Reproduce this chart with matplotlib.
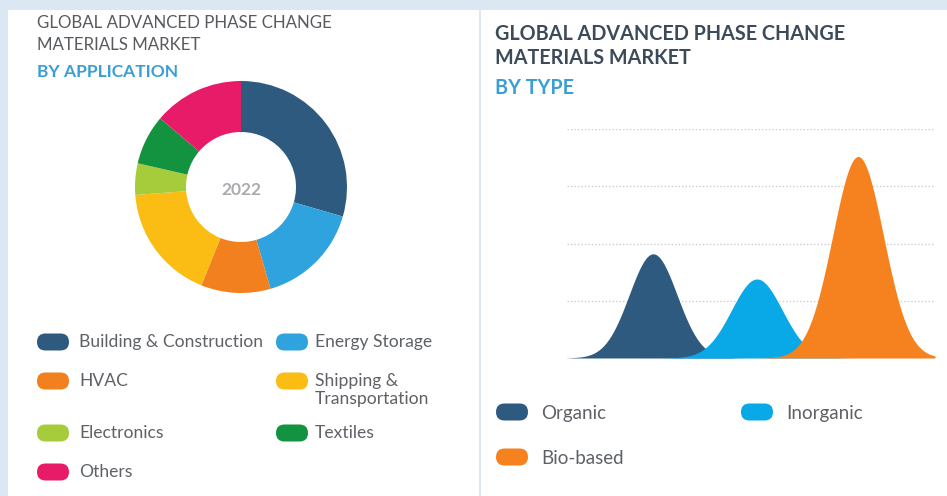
"""Advanced phase change materials market: donut by application and bell curves by type."""

import matplotlib
matplotlib.use("Agg")
import matplotlib.pyplot as plt
import numpy as np
from matplotlib.patches import FancyBboxPatch, Rectangle

plt.rcParams["font.family"] = ["Lato", "DejaVu Sans"]

W, H = 947, 496

# data - by application (share of 2022 market, %)
app_labels = ["Building & Construction", "Energy Storage", "HVAC", "Shipping &\nTransportation",
              "Electronics", "Textiles", "Others"]
app_shares = [29.5, 16.0, 10.6, 17.7, 4.8, 7.6, 13.8]
app_colors = ["#2f5a80", "#2ea3de", "#f2801f", "#fbbd14", "#a6cc3c", "#13923f", "#e81b69"]
donut_year = "2022"

# data - by type (relative peak height, peak position, spread)
type_labels = ["Organic", "Inorganic", "Bio-based"]
type_peaks = [1.82, 1.38, 3.52]
type_centers = [2.34, 5.16, 7.91]
type_spread = [0.65, 0.69, 0.69]
type_colors = ["#2f5a80", "#09a8e6", "#f5821f"]

BG = "#dce7f4"
TXT = "#575a5e"
LEG = "#5e6166"


def box(x0, y0, x1, y1):
    """pixel box (top-left origin) -> figure fraction rect"""
    return [x0 / W, 1 - y1 / H, (x1 - x0) / W, (y1 - y0) / H]


fig = plt.figure(figsize=(W / 100, H / 100), dpi=100, facecolor=BG)

# overlay in pixel units for panels, titles and legends
ov = fig.add_axes([0, 0, 1, 1])
ov.set_xlim(0, W)
ov.set_ylim(H, 0)
ov.axis("off")
ov.add_patch(Rectangle((8, 10), 471, H, facecolor="white", edgecolor="none"))
ov.add_patch(Rectangle((481, 10), W - 481, H, facecolor="white", edgecolor="none"))

# titles
ov.text(37, 23, "GLOBAL ADVANCED PHASE CHANGE", fontsize=12.2, color=TXT, va="center")
ov.text(37, 45, "MATERIALS MARKET", fontsize=12.2, color=TXT, va="center")
ov.text(37, 72, "BY APPLICATION", fontsize=12.5, color="#3a9fd6", fontweight="bold", va="center")
ov.text(495, 34, "GLOBAL ADVANCED PHASE CHANGE", fontsize=14.2, color="#3c4a5a",
        fontweight="bold", va="center")
ov.text(495, 58, "MATERIALS MARKET", fontsize=14.2, color="#3c4a5a", fontweight="bold", va="center")
ov.text(495, 88, "BY TYPE", fontsize=14.2, color="#3a9fd6", fontweight="bold", va="center")


def pill(x, y, color):
    ov.add_patch(FancyBboxPatch((x, y - 8.5), 32, 17, boxstyle="round,pad=0,rounding_size=8.5",
                                facecolor=color, edgecolor="none"))


# left legend (two columns)
app_rows = [342, 342, 381, 381, 433, 433, 472]
for i, (lab, col) in enumerate(zip(app_labels, app_colors)):
    x, tx = (37, 79) if i % 2 == 0 else (276, 315)
    y = app_rows[i]
    pill(x, y, col)
    ov.text(tx, y - 8, lab, fontsize=12.6, color=LEG, va="top", linespacing=1.15)

# right legend
type_pos = [(496, 412), (741, 412), (496, 457)]
for (x, y), lab, col in zip(type_pos, type_labels, type_colors):
    pill(x, y, col)
    ov.text(x + 45, y + 1, lab, fontsize=13.5, color=LEG, va="center")

# donut
ax_pie = fig.add_axes(box(131, 77, 351, 297))
ax_pie.pie(app_shares, colors=app_colors, startangle=90, counterclock=False, radius=106 / 110,
           wedgeprops=dict(width=51 / 110, edgecolor="none"))
ax_pie.set_xlim(-1, 1)
ax_pie.set_ylim(-1, 1)
ax_pie.text(0, -0.03, donut_year, ha="center", va="center", fontsize=12.5, fontweight="bold",
            color="#a9abae")

# bell curves
ax = fig.add_axes(box(567, 129, 935, 358))
ax.set_xlim(0, 10)
ax.set_ylim(0, 4)
xs = np.linspace(0, 10, 600)
for peak, c, s, col in zip(type_peaks, type_centers, type_spread, type_colors):
    ys = peak * np.exp(-0.5 * ((xs - c) / s) ** 2)
    ax.fill_between(xs, 0, ys, color=col, linewidth=0, zorder=3)
ax.set_yticks([1, 2, 3, 4])
ax.grid(axis="y", color="#c9ccd0", linestyle=(0, (1, 1.5)), linewidth=1, zorder=0)
ax.axhline(0, color="#c5ccd3", linewidth=1, zorder=2)
ax.tick_params(length=0, labelleft=False, labelbottom=False)
for sp in ax.spines.values():
    sp.set_visible(False)
ax.set_facecolor("none")

fig.savefig("out.png", dpi=100, facecolor=BG)
